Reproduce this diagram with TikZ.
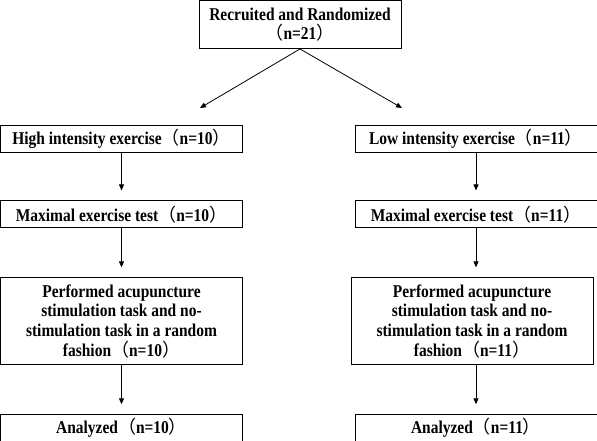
\documentclass[tikz,border=0pt]{standalone}
\usepackage{fontspec}
\setmainfont{Liberation Serif}[FakeStretch=0.86]
\newfontfamily\cjk{Noto Sans CJK SC}
\usetikzlibrary{positioning, arrows.meta}
\newcommand{\lpar}{{\cjk\mdseries （}}
\newcommand{\rpar}{{\cjk\mdseries ）}}
\tikzset{
  box/.style={rectangle, draw, line width=0.9pt, minimum width=242pt, minimum height=27pt, inner sep=2pt, align=center, font=\fontsize{18}{19.7}\selectfont\bfseries},
  arrow/.style={-{Triangle[length=6pt, width=5pt]}, line width=0.8pt},
}

\begin{document}
\begin{tikzpicture}[x=1pt, y=-1pt]
  \useasboundingbox (0,0) rectangle (597,440);

  % Randomization
  \node[box, minimum width=202pt, minimum height=48pt] (rand) at (300,24.5) {Recruited and Randomized\\\lpar n=21\rpar};
  \coordinate (lt) at (200,108);
  \coordinate (rt) at (402,108);

  % High intensity arm
  \node[box] (high) at (121.5,138.5) {High intensity exercise\lpar n=10\rpar};
  \node[box, below=48pt of high] (maxh) {Maximal exercise test\lpar n=10\rpar};
  \node[box, below=49pt of maxh, minimum height=87pt] (perfh) {Performed acupuncture\\stimulation task and no-\\stimulation task in a random\\fashion\lpar n=10\rpar};
  \node[box, below=49pt of perfh] (anah) {Analyzed\lpar n=10\rpar};

  % Low intensity arm
  \node[box] (low) at (476,138.5) {Low intensity exercise\lpar n=11\rpar};
  \node[box, below=48pt of low] (maxl) {Maximal exercise test\lpar n=11\rpar};
  \node[box, below=49pt of maxl, minimum height=87pt, xshift=-4pt] (perfl) {Performed acupuncture\\stimulation task and no-\\stimulation task in a random\\fashion\lpar n=11\rpar};
  \node[box, below=49pt of perfl, xshift=4pt] (anal) {Analyzed\lpar n=11\rpar};

  % Arrows
  \draw[arrow] (rand.south) -- (lt);
  \draw[arrow] (rand.south) -- (rt);
  \draw[arrow, shorten >=10pt] (high) -- (maxh);
  \draw[arrow, shorten >=10pt] (maxh) -- (perfh);
  \draw[arrow, shorten >=10pt] (perfh) -- (anah);
  \draw[arrow, shorten >=10pt] (low) -- (maxl);
  \draw[arrow, shorten >=10pt] (maxl.south) -- (maxl.south |- perfl.north);
  \draw[arrow, shorten >=10pt] (perfl.south -| anal.north) -- (anal.north);

\end{tikzpicture}
\end{document}
